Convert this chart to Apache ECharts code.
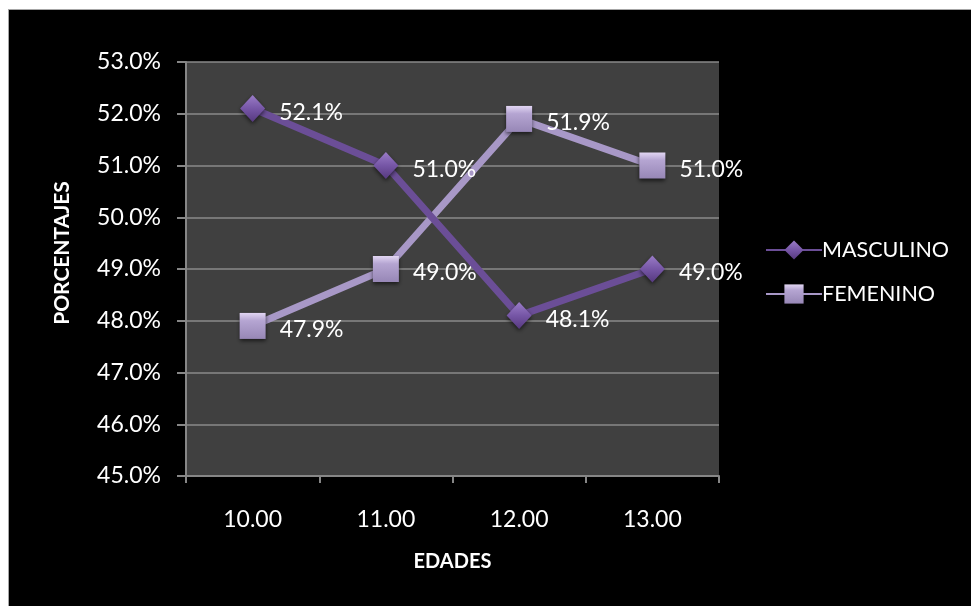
<!DOCTYPE html>
<html>
<head>
<meta charset="utf-8">
<title>Porcentajes por edad</title>
<script src="https://cdn.jsdelivr.net/npm/echarts@6/dist/echarts.min.js"></script>
<style>
  html, body { margin: 0; padding: 0; background: #ffffff; }
  #frame {
    position: absolute; left: 8px; top: 9px; right: 0; bottom: 0;
    background: #000000;
    border-left: 1px solid #a6a6a6; border-top: 1px solid #a6a6a6;
  }
  #chart { position: absolute; left: 0; top: 0; width: 971px; height: 606px; }
</style>
</head>
<body>
<div id="frame"></div>
<div id="chart"></div>
<script>
// Age groups on the x axis
const edades = ['10.00', '11.00', '12.00', '13.00'];
// Share of each sex per age, in percent
const masculino = [52.1, 51.0, 48.1, 49.0];
const femenino = [47.9, 49.0, 51.9, 51.0];
// Value axis range
const yMin = 45;
const yMax = 53;
const yStep = 1;

const FONT = 'Lato, "Open Sans", sans-serif';
const pct = v => v.toFixed(1) + '%';

const chart = echarts.init(document.getElementById('chart'), null, { renderer: 'canvas' });

const diamondFill = new echarts.graphic.LinearGradient(0, 0, 0, 1, [
  { offset: 0, color: '#9a7cc7' },
  { offset: 0.5, color: '#7656a6' },
  { offset: 1, color: '#56397f' }
]);
const squareFill = new echarts.graphic.LinearGradient(0, 0, 0, 1, [
  { offset: 0, color: '#e2d6f3' },
  { offset: 0.3, color: '#b5a5d2' },
  { offset: 1, color: '#9787b6' }
]);

const labelStyle = {
  show: true,
  position: 'right',
  distance: 14,
  offset: [0, 4],
  color: '#ffffff',
  fontSize: 23,
  fontFamily: FONT,
  formatter: p => pct(p.value)
};

chart.setOption({
  backgroundColor: 'transparent',
  animation: false,
  grid: {
    left: 186, right: 252, top: 62, bottom: 130,
    show: true, backgroundColor: '#404040', borderWidth: 0
  },
  legend: {
    orient: 'vertical',
    left: 760,
    top: 234,
    itemWidth: 56,
    itemHeight: 24,
    itemGap: 22,
    textStyle: { color: '#ffffff', fontSize: 21.5, fontFamily: FONT, padding: [0, 0, 0, -5] },
    data: ['MASCULINO', 'FEMENINO']
  },
  xAxis: {
    type: 'category',
    data: edades,
    boundaryGap: true,
    name: 'EDADES',
    nameLocation: 'middle',
    nameGap: 76,
    nameTextStyle: { color: '#ffffff', fontSize: 20, fontWeight: 'bold', fontFamily: FONT },
    axisLine: { lineStyle: { color: '#868686', width: 2 } },
    axisTick: { show: true, length: 7, lineStyle: { color: '#868686', width: 2 } },
    axisLabel: { color: '#ffffff', fontSize: 23, fontFamily: FONT, margin: 32 },
    splitLine: { show: false }
  },
  yAxis: {
    type: 'value',
    min: yMin,
    max: yMax,
    interval: yStep,
    name: 'PORCENTAJES',
    nameLocation: 'middle',
    nameRotate: 90,
    nameGap: 113,
    nameTextStyle: {
      color: '#ffffff', fontSize: 21, fontWeight: 'bold', fontFamily: FONT,
      padding: [0, 0, 0, 32]
    },
    axisLine: { show: true, lineStyle: { color: '#868686', width: 2 } },
    axisTick: { show: true, length: 9, lineStyle: { color: '#868686', width: 2 } },
    axisLabel: { color: '#ffffff', fontSize: 23, fontFamily: FONT, margin: 25, formatter: v => pct(v) },
    splitLine: { show: true, lineStyle: { color: '#8a8a8a', width: 1.5 } }
  },
  series: [
    {
      name: 'MASCULINO',
      type: 'line',
      data: masculino,
      symbol: 'diamond',
      symbolSize: [25, 27],
      z: 3,
      lineStyle: { color: '#6b4e97', width: 7 },
      itemStyle: {
        color: diamondFill,
        borderWidth: 0,
        shadowBlur: 4, shadowColor: 'rgba(0,0,0,0.6)', shadowOffsetY: 2
      },
      label: labelStyle
    },
    {
      name: 'FEMENINO',
      type: 'line',
      data: femenino,
      symbol: 'rect',
      symbolSize: 26,
      z: 2,
      lineStyle: { color: '#a898c7', width: 7 },
      itemStyle: {
        color: squareFill,
        borderWidth: 0,
        shadowBlur: 4, shadowColor: 'rgba(0,0,0,0.6)', shadowOffsetY: 2
      },
      label: labelStyle
    }
  ]
});
</script>
</body>
</html>
